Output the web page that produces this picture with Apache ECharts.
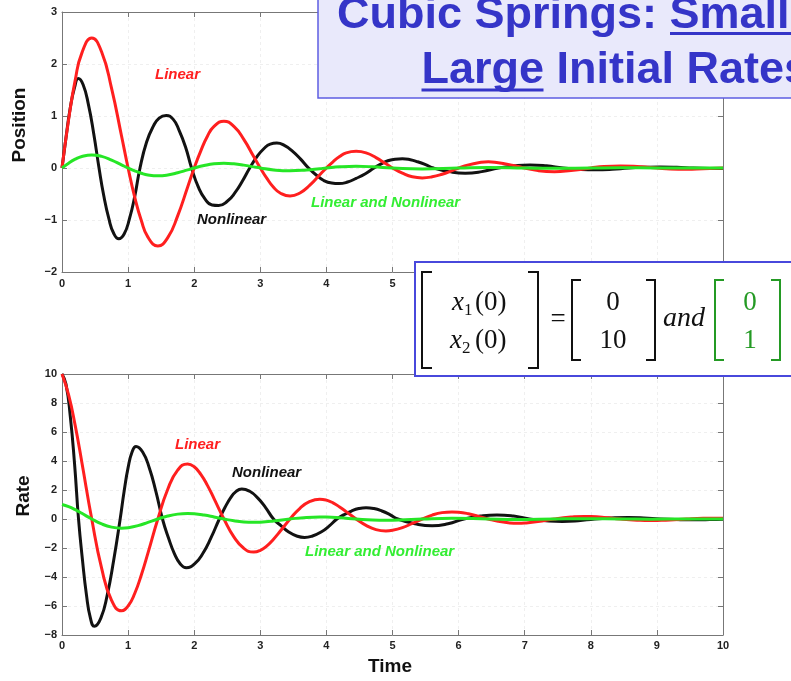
<!DOCTYPE html>
<html>
<head>
<meta charset="utf-8">
<script src="https://cdn.jsdelivr.net/npm/echarts@6/dist/echarts.min.js"></script>
<style>
  html, body { margin: 0; padding: 0; background: #fff; }
  #chart { width: 791px; height: 681px; }
</style>
</head>
<body>
<div id="chart"></div>
<script>
// tick values for the axes
const timeTicks = [0, 1, 2, 3, 4, 5, 6, 7, 8, 9, 10];
const posTicks = [-2, -1, 0, 1, 2, 3];
const rateTicks = [-8, -6, -4, -2, 0, 2, 4, 6, 8, 10];

// position, initial rate 10
const posLinear = [
  [0, 0], [0.1, 0.93], [0.2, 1.69], [0.3, 2.21], [0.45, 2.5], [0.6, 2.23], [0.75, 1.53], [0.9, 0.62],
  [1, 0], [1.1, -0.56], [1.2, -1.01], [1.3, -1.33], [1.45, -1.5], [1.6, -1.34], [1.75, -0.92], [1.9, -0.37],
  [2, 0], [2.1, 0.33], [2.2, 0.61], [2.3, 0.8], [2.45, 0.9], [2.6, 0.8], [2.75, 0.55], [2.9, 0.22],
  [3, 0], [3.1, -0.2], [3.2, -0.37], [3.3, -0.48], [3.45, -0.54], [3.6, -0.48], [3.75, -0.33], [3.9, -0.13],
  [4, 0], [4.1, 0.12], [4.2, 0.22], [4.3, 0.29], [4.45, 0.32], [4.6, 0.29], [4.75, 0.2], [4.9, 0.08],
  [5, 0], [5.15, -0.1], [5.3, -0.17], [5.45, -0.19], [5.6, -0.17], [5.75, -0.12], [5.9, -0.05],
  [6, 0], [6.15, 0.06], [6.3, 0.1], [6.45, 0.12], [6.6, 0.1], [6.75, 0.07], [6.9, 0.03],
  [7, 0], [7.2, -0.05], [7.45, -0.07], [7.7, -0.05], [7.9, -0.02],
  [8, 0], [8.2, 0.03], [8.45, 0.04], [8.7, 0.03], [8.9, 0.01],
  [9, 0], [9.2, -0.02], [9.45, -0.025], [9.7, -0.015], [10, 0]
];
const posNonlinear = [
  [0, 0], [0.06, 0.58], [0.124, 1.15], [0.19, 1.55], [0.247, 1.72], [0.32, 1.6], [0.4, 1.22], [0.48, 0.66],
  [0.56, 0], [0.63, -0.52], [0.71, -0.98], [0.78, -1.25], [0.86, -1.36], [0.94, -1.27], [1.02, -0.98], [1.1, -0.55],
  [1.18, 0], [1.28, 0.5], [1.38, 0.8], [1.47, 0.96], [1.576, 1.01], [1.68, 0.94], [1.77, 0.73], [1.87, 0.4],
  [1.96, 0], [2.06, -0.36], [2.165, -0.6], [2.27, -0.71], [2.37, -0.72], [2.5, -0.64], [2.62, -0.47], [2.73, -0.25],
  [2.84, 0], [2.95, 0.22], [3.06, 0.38], [3.15, 0.46], [3.25, 0.48], [3.37, 0.43], [3.49, 0.32], [3.61, 0.17],
  [3.73, 0], [3.85, -0.14], [3.96, -0.24], [4.08, -0.29], [4.19, -0.3], [4.32, -0.27], [4.45, -0.2], [4.59, -0.11],
  [4.72, 0], [4.83, 0.08], [4.93, 0.14], [5.04, 0.17], [5.15, 0.18], [5.27, 0.16], [5.38, 0.12], [5.5, 0.065],
  [5.62, 0], [5.86, -0.07], [6.1, -0.1], [6.35, -0.07], [6.6, 0], [6.84, 0.042], [7.08, 0.06], [7.33, 0.042],
  [7.58, 0], [7.82, -0.025], [8.07, -0.035], [8.32, -0.025], [8.57, 0], [8.81, 0.014], [9.05, 0.02], [9.3, 0.014],
  [9.55, 0], [9.8, -0.008], [10, -0.01]
];
// position, initial rate 1 (linear and nonlinear coincide)
const posSmall = [
  [0, 0], [0.1, 0.093], [0.2, 0.169], [0.3, 0.221], [0.45, 0.25], [0.6, 0.223], [0.75, 0.153], [0.9, 0.062],
  [1, 0], [1.1, -0.056], [1.2, -0.101], [1.3, -0.133], [1.45, -0.15], [1.6, -0.134], [1.75, -0.092], [1.9, -0.037],
  [2, 0], [2.15, 0.047], [2.3, 0.08], [2.45, 0.09], [2.6, 0.08], [2.75, 0.055], [2.9, 0.022],
  [3, 0], [3.2, -0.037], [3.45, -0.054], [3.7, -0.038], [3.9, -0.013],
  [4, 0], [4.2, 0.022], [4.45, 0.032], [4.7, 0.023], [5, 0], [5.45, -0.019], [6, 0], [6.45, 0.012],
  [7, 0], [7.45, -0.007], [8, 0], [8.45, 0.004], [9, 0], [9.45, -0.002], [10, 0]
];

// rate (lower plot)
const rateLinear = [
  [0, 10], [0.1, 8.56], [0.2, 6.44], [0.3, 3.92], [0.45, 0], [0.6, -3.41], [0.75, -5.61], [0.9, -6.33],
  [1, -6.0], [1.1, -5.14], [1.2, -3.86], [1.3, -2.35], [1.45, 0], [1.6, 2.05], [1.75, 3.37], [1.9, 3.8],
  [2, 3.6], [2.1, 3.08], [2.2, 2.32], [2.3, 1.41], [2.45, 0], [2.6, -1.23], [2.75, -2.02], [2.9, -2.28],
  [3, -2.16], [3.1, -1.85], [3.2, -1.39], [3.3, -0.85], [3.45, 0], [3.6, 0.74], [3.75, 1.21], [3.9, 1.37],
  [4, 1.3], [4.1, 1.11], [4.2, 0.83], [4.3, 0.51], [4.45, 0], [4.6, -0.44], [4.75, -0.73], [4.9, -0.82],
  [5, -0.78], [5.15, -0.6], [5.3, -0.3], [5.45, 0], [5.6, 0.27], [5.75, 0.44], [5.9, 0.49],
  [6, 0.47], [6.15, 0.36], [6.3, 0.18], [6.45, 0], [6.6, -0.16], [6.75, -0.26], [6.9, -0.3],
  [7, -0.28], [7.2, -0.18], [7.45, 0], [7.7, 0.13], [7.9, 0.18],
  [8, 0.17], [8.2, 0.11], [8.45, 0], [8.7, -0.08], [8.9, -0.11],
  [9, -0.1], [9.2, -0.07], [9.45, 0], [9.7, 0.05], [9.9, 0.06], [10, 0.06]
];
const rateNonlinear = [
  [0, 10], [0.06, 9.3], [0.125, 7.1], [0.19, 3.8], [0.25, 0], [0.31, -2.83], [0.37, -5.23], [0.43, -6.84],
  [0.49, -7.4], [0.5875, -6.84], [0.685, -5.23], [0.7825, -2.83], [0.88, 0], [0.94, 1.91], [1.0, 3.54], [1.06, 4.62],
  [1.12, 5.0], [1.22, 4.62], [1.32, 3.54], [1.42, 1.91], [1.52, 0], [1.61, -1.29], [1.7, -2.38], [1.79, -3.1],
  [1.88, -3.36], [2.005, -3.1], [2.13, -2.38], [2.255, -1.29], [2.38, 0], [2.465, 0.79], [2.55, 1.46], [2.635, 1.91],
  [2.72, 2.07], [2.84, 1.91], [2.96, 1.46], [3.08, 0.79], [3.2, 0], [3.32, -0.49], [3.43, -0.9], [3.55, -1.17],
  [3.67, -1.27], [3.79, -1.17], [3.92, -0.9], [4.04, -0.49], [4.16, 0], [4.27, 0.3], [4.38, 0.55], [4.49, 0.72],
  [4.6, 0.78], [4.72, 0.72], [4.84, 0.55], [4.96, 0.3], [5.08, 0], [5.34, -0.33], [5.6, -0.47], [5.84, -0.33],
  [6.08, 0], [6.33, 0.2], [6.58, 0.28], [6.83, 0.2], [7.07, 0], [7.32, -0.12], [7.57, -0.17], [7.81, -0.12],
  [8.06, 0], [8.31, 0.07], [8.56, 0.1], [8.8, 0.07], [9.05, 0], [9.3, -0.042], [9.55, -0.06], [9.8, -0.042], [10, -0.01]
];
const rateSmall = [
  [0, 1], [0.1, 0.856], [0.2, 0.644], [0.3, 0.392], [0.45, 0], [0.6, -0.341], [0.75, -0.561], [0.9, -0.633],
  [1, -0.6], [1.15, -0.46], [1.3, -0.235], [1.45, 0], [1.6, 0.205], [1.75, 0.337], [1.9, 0.38],
  [2, 0.36], [2.15, 0.27], [2.3, 0.141], [2.45, 0], [2.6, -0.123], [2.75, -0.202], [2.9, -0.228],
  [3, -0.216], [3.2, -0.139], [3.45, 0], [3.7, 0.11], [3.9, 0.137],
  [4, 0.13], [4.2, 0.083], [4.45, 0], [4.7, -0.068], [4.9, -0.082],
  [5.1, -0.07], [5.45, 0], [5.9, 0.049], [6.45, 0], [6.9, -0.03], [7.45, 0], [7.9, 0.018],
  [8.45, 0], [8.9, -0.011], [9.45, 0], [9.9, 0.006], [10, 0.006]
];

const RED = '#ff1f1f';
const BLACK = '#121212';
const GREEN = '#26e626';
const TITLE_BLUE = '#3535c8';
const SANS = '"Liberation Sans", Arial, sans-serif';
const SERIF = '"Liberation Serif", "Times New Roman", serif';

const chart = echarts.init(document.getElementById('chart'));

function minus(v) {
  return String(v).replace('-', '\u2212');
}

// main axis (labels) + mirror axis (top / right ticks only)
function xAxes(grid, margin) {
  const base = {
    type: 'value', gridIndex: grid,
    min: timeTicks[0], max: timeTicks[timeTicks.length - 1], interval: timeTicks[1] - timeTicks[0],
    axisLine: { show: true, onZero: false, lineStyle: { color: '#777', width: 1 } },
    axisTick: { show: true, inside: true, length: 5, lineStyle: { color: '#777' } }
  };
  return [
    Object.assign({}, base, {
      position: 'bottom',
      axisLabel: { show: true, margin: margin, color: '#222', fontSize: 11, fontWeight: 'bold',
        fontFamily: SANS, showMinLabel: true, showMaxLabel: true },
      splitLine: { show: true, lineStyle: { color: '#efefef', type: [3, 3] } }
    }),
    Object.assign({}, base, { position: 'top', axisLabel: { show: false }, splitLine: { show: false } })
  ];
}

function yAxes(grid, ticks) {
  const base = {
    type: 'value', gridIndex: grid,
    min: ticks[0], max: ticks[ticks.length - 1], interval: ticks[1] - ticks[0],
    axisLine: { show: true, onZero: false, lineStyle: { color: '#777', width: 1 } },
    axisTick: { show: true, inside: true, length: 5, lineStyle: { color: '#777' } }
  };
  return [
    Object.assign({}, base, {
      position: 'left',
      axisLabel: { show: true, margin: 5, color: '#222', fontSize: 11, fontWeight: 'bold',
        fontFamily: SANS, formatter: minus, showMinLabel: true, showMaxLabel: true },
      splitLine: { show: true, lineStyle: { color: '#efefef', type: [3, 3] } }
    }),
    Object.assign({}, base, { position: 'right', axisLabel: { show: false }, splitLine: { show: false } })
  ];
}

function curve(data, color, xi, yi) {
  return {
    type: 'line', data: data, xAxisIndex: xi, yAxisIndex: yi,
    smooth: 0.5, symbol: 'none', silent: true,
    lineStyle: { color: color, width: 3 }
  };
}

function label(text, x, y, color, opts) {
  return Object.assign({
    type: 'text', z: 100, silent: true,
    style: {
      text: text, x: x, y: y, fill: color,
      font: 'italic bold 15px ' + SANS,
      textAlign: 'left', align: 'left', textVerticalAlign: 'middle', verticalAlign: 'middle'
    }
  }, opts || {});
}

function plain(text, x, y, color, font, align) {
  return {
    type: 'text', z: 101, silent: true,
    style: {
      text: text, x: x, y: y, fill: color, font: font,
      textAlign: align || 'left', align: align || 'left',
      textVerticalAlign: 'middle', verticalAlign: 'middle'
    }
  };
}

function bracket(points, color) {
  return {
    type: 'polyline', z: 101, silent: true,
    shape: { points: points },
    style: { stroke: color, lineWidth: 2, fill: null }
  };
}

function axisTitle(text, x, y, rotate) {
  return {
    type: 'text', z: 100, silent: true, x: x, y: y, rotation: rotate ? Math.PI / 2 : 0,
    style: {
      text: text, x: 0, y: 0, fill: '#111', font: 'bold 19px ' + SANS,
      textAlign: 'center', align: 'center', textVerticalAlign: 'middle', verticalAlign: 'middle'
    }
  };
}

const option = {
  animation: false,
  backgroundColor: '#ffffff',
  grid: [
    { left: 62, top: 12, width: 661, height: 260, outerBoundsMode: 'none' },
    { left: 62, top: 374, width: 661, height: 261, outerBoundsMode: 'none' }
  ],
  xAxis: xAxes(0, 6).concat(xAxes(1, 5)),
  yAxis: yAxes(0, posTicks).concat(yAxes(1, rateTicks)),
  series: [
    curve(posNonlinear, BLACK, 0, 0),
    curve(posLinear, RED, 0, 0),
    curve(posSmall, GREEN, 0, 0),
    curve(rateNonlinear, BLACK, 2, 2),
    curve(rateLinear, RED, 2, 2),
    curve(rateSmall, GREEN, 2, 2)
  ],
  graphic: [
    // curve labels
    label('Linear', 155, 75, RED),
    label('Nonlinear', 197, 220, BLACK),
    label('Linear and Nonlinear', 311, 203, '#33ee33'),
    label('Linear', 175, 445, RED),
    label('Nonlinear', 232, 473, BLACK),
    label('Linear and Nonlinear', 305, 552, '#33ee33'),
    // axis titles
    axisTitle('Position', 20, 125, true),
    axisTitle('Rate', 24, 496, true),
    axisTitle('Time', 390, 667, false),
    // title box
    {
      type: 'rect', z: 100, silent: true,
      shape: { x: 318, y: -5, width: 500, height: 103 },
      style: { fill: '#e9e9fb', stroke: '#5d5de2', lineWidth: 1.5 }
    },
    plain('Cubic Springs: Small', 337, 16, TITLE_BLUE, 'bold 45px ' + SANS),
    plain('Large Initial Rates', 421.5, 71, TITLE_BLUE, 'bold 45px ' + SANS),
    { type: 'rect', z: 101, silent: true, shape: { x: 670, y: 32, width: 130, height: 3 }, style: { fill: TITLE_BLUE } },
    { type: 'rect', z: 101, silent: true, shape: { x: 421.5, y: 88.5, width: 122, height: 3 }, style: { fill: TITLE_BLUE } },
    // initial condition box
    {
      type: 'rect', z: 100, silent: true,
      shape: { x: 415, y: 262, width: 400, height: 114 },
      style: { fill: '#ffffff', stroke: '#4848dc', lineWidth: 2 }
    },
    bracket([[432, 272], [422, 272], [422, 368], [432, 368]], '#111'),
    bracket([[528, 272], [538, 272], [538, 368], [528, 368]], '#111'),
    plain('x', 452, 303, '#111', 'italic 27px ' + SERIF),
    plain('1', 464, 311, '#111', '17px ' + SERIF),
    plain('(0)', 475, 303, '#111', '27px ' + SERIF),
    plain('x', 450, 341, '#111', 'italic 27px ' + SERIF),
    plain('2', 462, 349, '#111', '17px ' + SERIF),
    plain('(0)', 475, 341, '#111', '27px ' + SERIF),
    plain('=', 558, 320, '#111', '27px ' + SERIF, 'center'),
    bracket([[581, 280], [572, 280], [572, 360], [581, 360]], '#111'),
    bracket([[646, 280], [655, 280], [655, 360], [646, 360]], '#111'),
    plain('0', 613, 303, '#111', '27px ' + SERIF, 'center'),
    plain('10', 613, 341, '#111', '27px ' + SERIF, 'center'),
    plain('and', 663, 319, '#111', 'italic 28px ' + SERIF),
    bracket([[724, 280], [715, 280], [715, 360], [724, 360]], '#249a24'),
    bracket([[771, 280], [780, 280], [780, 360], [771, 360]], '#249a24'),
    plain('0', 750, 303, '#249a24', '27px ' + SERIF, 'center'),
    plain('1', 750, 341, '#249a24', '27px ' + SERIF, 'center')
  ]
};

chart.setOption(option);
</script>
</body>
</html>
